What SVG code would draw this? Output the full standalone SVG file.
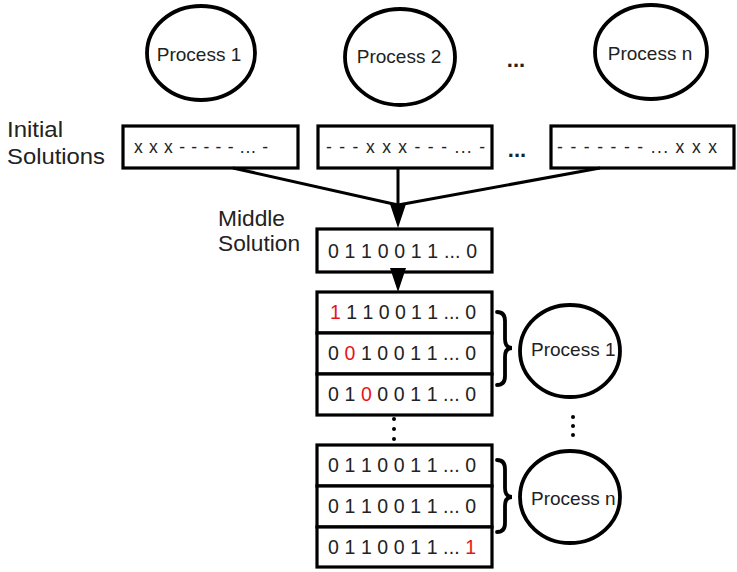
<svg xmlns="http://www.w3.org/2000/svg" width="737" height="572" viewBox="0 0 737 572">
  <style>
    text { font-family: "Liberation Sans", Arial, sans-serif; fill: #222; }
    .proc { fill: #fff; stroke: #000; stroke-width: 3.8; }
    .box { fill: #fff; stroke: #000; stroke-width: 3.2; }
    .line { fill: none; stroke: #000; stroke-width: 3; }
    .brace { fill: none; stroke: #000; stroke-width: 3.8; stroke-linecap: round; }
    .head { fill: #000; }
    .label { font-size: 22.5px; }
    .ptext { font-size: 19px; }
    .bits { font-size: 19.5px; }
    .init { font-size: 17.5px; }
    .ell { font-size: 22px; font-weight: bold; }
    .red { fill: #e8141b; }
    .dot { fill: #000; }
  </style>

  <!-- top row of processes -->
  <g id="process-top-1">
    <ellipse class="proc" cx="201" cy="53" rx="54" ry="47"/>
    <text class="ptext" x="199" y="61" text-anchor="middle">Process 1</text>
  </g>
  <g id="process-top-2">
    <ellipse class="proc" cx="400" cy="57" rx="55" ry="48"/>
    <text class="ptext" x="399" y="63" text-anchor="middle">Process 2</text>
  </g>
  <g id="process-top-n">
    <ellipse class="proc" cx="651" cy="52" rx="56" ry="47"/>
    <text class="ptext" x="650" y="60" text-anchor="middle">Process n</text>
  </g>
  <g id="process-top-ellipsis">
    <text class="ell" x="516" y="67" text-anchor="middle">...</text>
  </g>

  <!-- initial solutions -->
  <g id="initial-label">
    <text class="label" x="7" y="137" textLength="56" lengthAdjust="spacingAndGlyphs">Initial</text>
    <text class="label" x="7" y="164" textLength="98" lengthAdjust="spacingAndGlyphs">Solutions</text>
  </g>
  <g id="initial-1">
    <rect class="box" x="123" y="126" width="175" height="42"/>
    <text class="init" x="134" y="153" textLength="134" lengthAdjust="spacing">x x x - - - - - ... -</text>
  </g>
  <g id="initial-2">
    <rect class="box" x="318" y="126" width="174" height="42"/>
    <text class="init" x="326" y="153" textLength="159" lengthAdjust="spacing">- - - x x x - - - ... -</text>
  </g>
  <g id="initial-ellipsis">
    <text class="ell" x="517" y="157" text-anchor="middle">...</text>
  </g>
  <g id="initial-n">
    <rect class="box" x="551" y="126" width="183" height="42"/>
    <text class="init" x="557" y="153" textLength="160" lengthAdjust="spacing">- - - - - - - ...  x x x</text>
  </g>

  <!-- middle solution -->
  <g id="middle-label">
    <text class="label" x="218" y="226" textLength="67" lengthAdjust="spacingAndGlyphs">Middle</text>
    <text class="label" x="218" y="251" textLength="82" lengthAdjust="spacingAndGlyphs">Solution</text>
  </g>
  <g id="middle">
    <rect class="box" x="317" y="229" width="175" height="43"/>
    <text class="bits" x="328" y="258" textLength="149" lengthAdjust="spacing">0 1 1 0 0 1 1 ... 0</text>
  </g>

  <!-- neighbourhood of the middle solution -->
  <g id="neighbour-1">
    <rect class="box" x="317" y="292" width="175" height="41"/>
    <text class="bits" x="330" y="319" textLength="146" lengthAdjust="spacing"><tspan class="red">1</tspan> 1 1 0 0 1 1 ... 0</text>
  </g>
  <g id="neighbour-2">
    <rect class="box" x="317" y="333" width="175" height="41"/>
    <text class="bits" x="328" y="360" textLength="148" lengthAdjust="spacing">0 <tspan class="red">0</tspan> 1 0 0 1 1 ... 0</text>
  </g>
  <g id="neighbour-3">
    <rect class="box" x="317" y="374" width="175" height="41"/>
    <text class="bits" x="328" y="401" textLength="148" lengthAdjust="spacing">0 1 <tspan class="red">0</tspan> 0 0 1 1 ... 0</text>
  </g>
  <g id="neighbour-gap">
    <circle class="dot" cx="394" cy="419" r="2"/>
    <circle class="dot" cx="394" cy="429" r="2"/>
    <circle class="dot" cx="394" cy="439" r="2"/>
  </g>
  <g id="neighbour-4">
    <rect class="box" x="317" y="445" width="175" height="41"/>
    <text class="bits" x="328" y="472" textLength="148" lengthAdjust="spacing">0 1 1 0 0 1 1 ... 0</text>
  </g>
  <g id="neighbour-5">
    <rect class="box" x="317" y="486" width="175" height="41"/>
    <text class="bits" x="328" y="513" textLength="148" lengthAdjust="spacing">0 1 1 0 0 1 1 ... 0</text>
  </g>
  <g id="neighbour-6">
    <rect class="box" x="317" y="527" width="175" height="40"/>
    <text class="bits" x="328" y="554" textLength="148" lengthAdjust="spacing">0 1 1 0 0 1 1 ... <tspan class="red">1</tspan></text>
  </g>

  <!-- processes evaluating the neighbours -->
  <g id="process-low-1">
    <ellipse class="proc" cx="570" cy="351" rx="50" ry="46"/>
    <text class="ptext" x="531" y="356">Process 1</text>
  </g>
  <g id="process-gap">
    <circle class="dot" cx="573" cy="417" r="2"/>
    <circle class="dot" cx="573" cy="426" r="2"/>
    <circle class="dot" cx="573" cy="435" r="2"/>
  </g>
  <g id="process-low-n">
    <ellipse class="proc" cx="570" cy="497" rx="50" ry="46"/>
    <text class="ptext" x="531" y="505">Process n</text>
  </g>

  <!-- connectors -->
  <g id="connectors">
    <path class="line" d="M233,168 L398,205"/>
    <path class="line" d="M600,168 L398,205"/>
    <path class="line" d="M398,168 L398,208"/>
    <path class="head" d="M390,204 L406,204 L398,228 Z"/>
    <path class="line" d="M398,272 L398,270"/>
    <path class="head" d="M390,268 L406,268 L398,292 Z"/>
    <path class="brace" d="M497,312 Q505,312 505,321 L505,339 Q505,348 512,348 Q505,348 505,357 L505,376 Q505,385 497,385"/>
    <path class="brace" d="M497,460 Q505,460 505,469 L505,488 Q505,497 512,497 Q505,497 505,506 L505,523 Q505,532 497,532"/>
  </g>
</svg>
